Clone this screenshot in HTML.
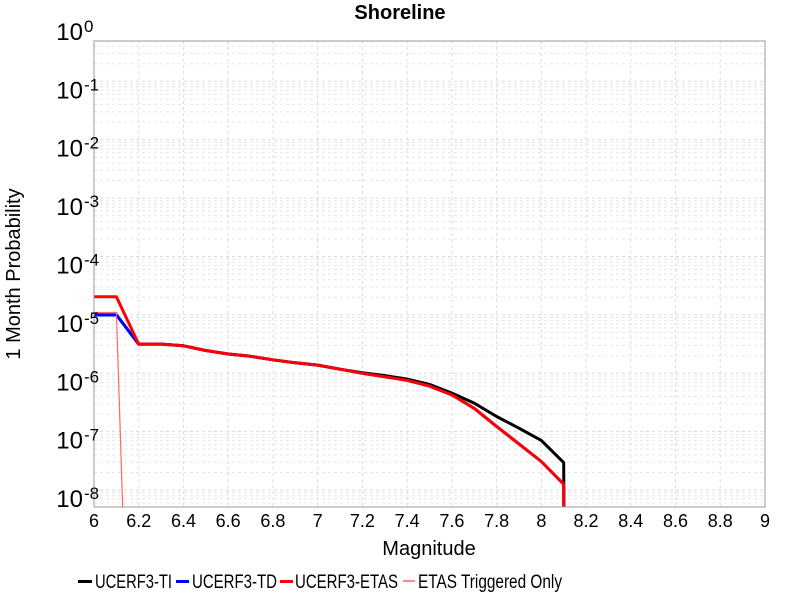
<!DOCTYPE html>
<html><head><meta charset="utf-8"><style>
html,body{margin:0;padding:0;background:#fff;width:800px;height:600px;overflow:hidden;font-family:"Liberation Sans",sans-serif}
svg{display:block}
</style></head><body>
<svg id="chart" width="800" height="600" xmlns="http://www.w3.org/2000/svg" font-family="Liberation Sans, sans-serif">
<text x="400" y="19" text-anchor="middle" font-size="20" font-weight="bold">Shoreline</text>
<text x="429" y="555" text-anchor="middle" font-size="20">Magnitude</text>
<text transform="translate(20,274) rotate(-90)" text-anchor="middle" font-size="20">1 Month Probability</text>
<g id="grid"></g>
<g id="series"></g>
<rect x="94" y="41" width="671" height="466" fill="none" stroke="#999" stroke-width="1"/>
<g id="ticks"></g>
<g font-size="19">
 <g><rect x="78" y="580" width="14" height="3" fill="#000"/><text x="95" y="588" textLength="77" lengthAdjust="spacingAndGlyphs">UCERF3-TI</text></g>
 <g><rect x="176" y="580" width="13" height="3" fill="#00f"/><text x="192" y="588" textLength="85" lengthAdjust="spacingAndGlyphs">UCERF3-TD</text></g>
 <g><rect x="280" y="580" width="13" height="3" fill="#f00"/><text x="295" y="588" textLength="103" lengthAdjust="spacingAndGlyphs">UCERF3-ETAS</text></g>
 <g><rect x="403" y="580" width="12" height="2" fill="#f88"/><text x="418" y="588" textLength="144" lengthAdjust="spacingAndGlyphs">ETAS Triggered Only</text></g>
</g>
</svg>
<script>
const magsMain = [6.0,6.1,6.2,6.3,6.4,6.5,6.6,6.7,6.8,6.9,7.0,7.1,7.2,7.3,7.4,7.5,7.6,7.7,7.8,7.9,8.0,8.1,8.105];
const logTI   = [-5.0,-5.0,-5.50,-5.50,-5.53,-5.61,-5.67,-5.71,-5.77,-5.82,-5.86,-5.93,-5.99,-6.04,-6.10,-6.19,-6.34,-6.51,-6.74,-6.94,-7.15,-7.53,-12];
const logTD   = [-5.0,-5.0,-5.50,-5.50,-5.53,-5.61,-5.67,-5.71,-5.77,-5.82,-5.86,-5.93,-6.00,-6.06,-6.12,-6.22,-6.37,-6.60,-6.91,-7.21,-7.51,-7.90,-12];
const logETAS = [-4.69,-4.69,-5.50,-5.50,-5.53,-5.61,-5.67,-5.71,-5.77,-5.82,-5.86,-5.93,-6.00,-6.06,-6.12,-6.22,-6.37,-6.60,-6.91,-7.21,-7.51,-7.90,-12];
const magsTrig = [6.0,6.1,6.2];
const logTrig  = [-4.96,-4.96,-16.8];
const xTicks = [6,6.2,6.4,6.6,6.8,7,7.2,7.4,7.6,7.8,8,8.2,8.4,8.6,8.8,9];
const xTickLabels = ["6","6.2","6.4","6.6","6.8","7","7.2","7.4","7.6","7.8","8","8.2","8.4","8.6","8.8","9"];
const yDecades = [0,-1,-2,-3,-4,-5,-6,-7,-8];

const NS="http://www.w3.org/2000/svg";
const L=94,R=765,T=41,B=507, yMin=-8.29, yMax=-0.31;
const xs=m=>L+(m-6)/(9-6)*(R-L);
const ys=lg=>T+(yMax-lg)/(yMax-yMin)*(B-T);
function mk(tag,attrs,parent){const e=document.createElementNS(NS,tag);for(const k in attrs)e.setAttribute(k,attrs[k]);parent.appendChild(e);return e;}
const grid=document.getElementById('grid'), ticks=document.getElementById('ticks'), series=document.getElementById('series');
xTicks.forEach((m,i)=>{
  const x=xs(m);
  const g=mk('line',{x1:x,x2:x,y1:T,y2:B,stroke:'#ddd','stroke-dasharray':'3,3'},grid);
  
  
  const t=mk('text',{x:x,y:527,'text-anchor':'middle','font-size':'18'},ticks);
  t.textContent=xTickLabels[i];
  
  
});
yDecades.forEach(d=>{
  for(let k=1;k<=9;k++){
    const v=(k===1)?d:d-1+Math.log10(k);
    if(v<yMin||v>yMax) continue;
    const y=ys(v);
    const g=mk('line',{x1:L,x2:R,y1:y,y2:y,stroke:k===1?'#d8d8d8':'#e6e6e6','stroke-dasharray':'3,3'},grid);
    
    
  }
  const gy=ys(d);
  const t=mk('text',{x:83,y:gy+17,'text-anchor':'end','font-size':'24'},ticks);
  t.textContent='10';
  
  
  const s=mk('text',{x:84,y:gy+9,'font-size':'17'},ticks);
  s.textContent=String(d);
  
  
});
const clip=mk('clipPath',{id:'pc'},document.getElementById('chart'));
mk('rect',{x:L,y:T,width:R-L,height:B-T},clip);
series.setAttribute('clip-path','url(#pc)');
function line(ms,vals,color,w,name){
  const pts=ms.map((m,i)=>xs(m).toFixed(1)+','+ys(vals[i]).toFixed(1)).join(' ');
  const p=mk('polyline',{points:pts,fill:'none',stroke:color,'stroke-width':w,'stroke-linejoin':'round'},series);
  
  
}
line(magsMain,logTI,'#000',3,'series-ucerf3-ti');
line(magsMain,logTD,'#00f',3,'series-ucerf3-td');
line(magsMain,logETAS,'#f00',3,'series-ucerf3-etas');
line(magsTrig,logTrig,'#f66',1.2,'series-etas-triggered');
</script>
</body></html>
